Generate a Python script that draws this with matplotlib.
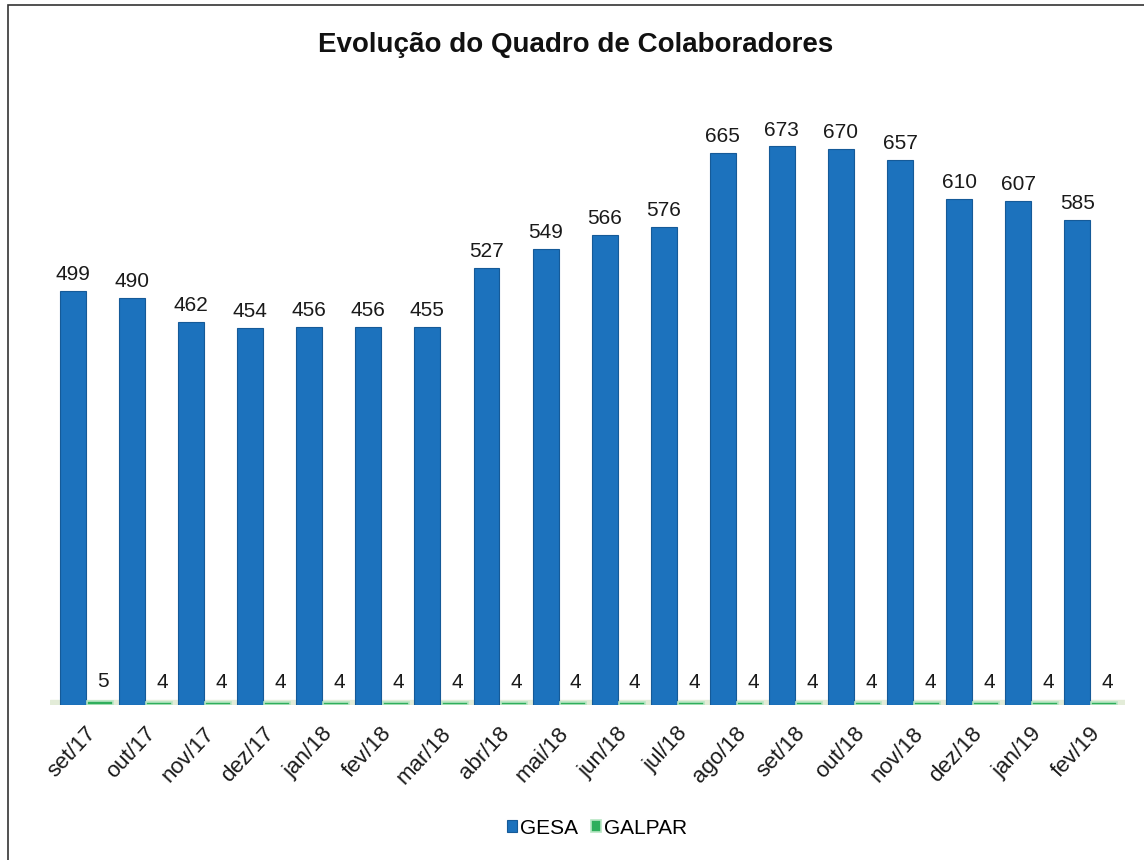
import matplotlib.pyplot as plt
import matplotlib.patches as patches
import numpy as np

plt.rcParams['font.family'] = ['Liberation Sans', 'DejaVu Sans']

months = ['set/17', 'out/17', 'nov/17', 'dez/17', 'jan/18', 'fev/18', 'mar/18',
          'abr/18', 'mai/18', 'jun/18', 'jul/18', 'ago/18', 'set/18', 'out/18',
          'nov/18', 'dez/18', 'jan/19', 'fev/19']
gesa = [499, 490, 462, 454, 456, 456, 455, 527, 549, 566, 576, 665, 673, 670,
        657, 610, 607, 585]
galpar = [5, 4, 4, 4, 4, 4, 4, 4, 4, 4, 4, 4, 4, 4, 4, 4, 4, 4]

BLUE = '#1c72bd'
GREEN = '#2fae5c'

fig = plt.figure(figsize=(11.44, 8.6), dpi=100)
ax = fig.add_axes([50 / 1144, 155 / 860, 1075 / 1144, 605 / 860])

x = np.arange(len(months))
w = 0.44
b1 = ax.bar(x - 0.21, gesa, w, color=BLUE, edgecolor='#155a98', linewidth=0.8,
            label='GESA', zorder=3)
b2 = ax.bar(x + 0.25, galpar, w, color=GREEN, edgecolor='#b8e6c4', linewidth=1.2,
            label='GALPAR', zorder=3)

# floor band
ax.axhspan(-6, 6, color='#e3ecd8', zorder=1)

for xi, v in zip(x, gesa):
    ax.annotate(str(v), (xi - 0.21, v), xytext=(0, 5), textcoords='offset points',
                ha='center', va='bottom', fontsize=15, color='#1a1a1a')
for xi, v in zip(x, galpar):
    ax.annotate(str(v), (xi + 0.3, v), xytext=(0, 7), textcoords='offset points',
                ha='center', va='bottom', fontsize=15, color='#1a1a1a')

ax.set_xlim(-0.6, len(months) - 0.4)
ax.set_ylim(0, 729)
ax.set_yticks([])
ax.set_xticks(x)
ax.set_xticklabels(months, rotation=47, ha='right', va='top',
                   rotation_mode='anchor', fontsize=16, color='#1a1a1a')
ax.tick_params(axis='x', length=0, pad=13)
for s in ax.spines.values():
    s.set_visible(False)

fig.text(0.503, 0.948, 'Evolução do Quadro de Colaboradores', ha='center',
         va='center', fontsize=20, fontweight='bold', color='#111111')

fig.legend(handles=[b1, b2], loc='center', bbox_to_anchor=(0.522, 0.037),
           ncol=2, frameon=False, fontsize=15, handlelength=0.5,
           handleheight=0.5, handletextpad=0.15, columnspacing=0.6)

# outer border of the chart area
fig.patches.append(patches.Rectangle((8 / 1144, -0.01), 1.02, 1 - 5 / 860 + 0.01,
                                     transform=fig.transFigure, fill=False,
                                     edgecolor='#333333', linewidth=1.2))

fig.savefig('out.png', dpi=100)
